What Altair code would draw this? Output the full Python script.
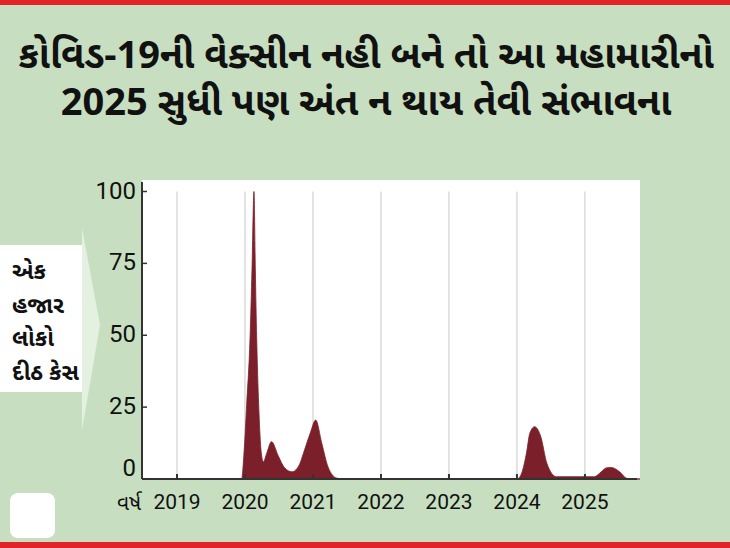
import altair as alt
import pandas as pd

# ---------------- data ----------------
title_lines = ["કોવિડ-19ની વેક્સીન નહી બને તો આ મહામારીનો",
               "2025 સુધી પણ અંત ન થાય તેવી સંભાવના"]
side_label = ["એક", "હજાર", "લોકો", "દીઠ કેસ"]
x_title = "વર્ષ"
year_ticks = [2019, 2020, 2021, 2022, 2023, 2024, 2025]
y_ticks = [0, 25, 50, 75, 100]

years = [2018.49, 2019.90, 2019.95, 2019.985, 2020.025, 2020.074, 2020.103,
         2020.132, 2020.152, 2020.172, 2020.201, 2020.24, 2020.27, 2020.32,
         2020.39, 2020.49, 2020.58, 2020.69, 2020.80, 2020.86, 2020.96,
         2021.04, 2021.13, 2021.22, 2021.35, 2021.45, 2024.00, 2024.05,
         2024.14, 2024.19, 2024.26, 2024.35, 2024.44, 2024.58, 2025.14,
         2025.24, 2025.32, 2025.39, 2025.51, 2025.62, 2025.81]
cases = [0, 0, 0, 9, 26, 49, 73,
         100, 73, 49, 26, 9, 6, 9,
         13, 8, 4, 2.5, 5, 9, 16,
         20.5, 12.4, 4.3, 0.3, 0, 0, 1,
         9, 16, 18.2, 14.8, 5.5, 0.8, 0.8,
         2.5, 3.9, 4, 2.5, 0.2, 0]

df = pd.DataFrame({"year": years, "cases": cases})
ticks_df = pd.DataFrame({"year": year_ticks,
                         "label": [str(y) for y in year_ticks],
                         "lo": [y_ticks[0]] * len(year_ticks),
                         "hi": [y_ticks[-1]] * len(year_ticks)})
yt_df = pd.DataFrame({"v": y_ticks, "label": [str(v) for v in y_ticks]})
one = pd.DataFrame({"k": [0]})

# ---------------- styling ----------------
BG = "#c7dfc0"
RED = "#e3232a"
AREA = "#7b1f2a"
INK = "#111111"
AXIS = "#333333"
NUM_FONT = "Roboto, Liberation Sans, sans-serif"
GU_FONT = "Noto Sans Gujarati, Noto Sans, sans-serif"

W, H = 498, 299
PL, PT = 142, 180

x_scale = alt.Scale(domain=[2018.485, 2025.81], nice=False, zero=False)
y_scale = alt.Scale(domain=[0, 104], nice=False)

# --- plot content ---
grid = alt.Chart(ticks_df).mark_rule(color="#c8c8c8", strokeWidth=1).encode(
    x=alt.X("year:Q", scale=x_scale, axis=None),
    y=alt.Y("lo:Q", scale=y_scale, axis=None), y2="hi:Q")

area = alt.Chart(df).mark_area(color=AREA, interpolate="monotone",
                               stroke=AREA, strokeWidth=0.8).encode(
    x=alt.X("year:Q", scale=x_scale, axis=None),
    y=alt.Y("cases:Q", scale=y_scale, axis=None))

# --- axis lines, ticks, labels (through the same scales) ---
x_domain = alt.Chart(one).mark_rule(color=AXIS, strokeWidth=2).encode(
    x=alt.value(0), x2=alt.value(W - 3), y=alt.value(H))
y_domain = alt.Chart(one).mark_rule(color=AXIS, strokeWidth=2).encode(
    x=alt.value(0), y=alt.value(2), y2=alt.value(H))

xticks = alt.Chart(ticks_df).mark_rule(color=AXIS, strokeWidth=2).encode(
    x=alt.X("year:Q", scale=x_scale, axis=None),
    y=alt.value(H), y2=alt.value(H - 5))

yticks = alt.Chart(yt_df).mark_rule(color=AXIS, strokeWidth=1.5).encode(
    y=alt.Y("v:Q", scale=y_scale, axis=None),
    x=alt.value(0), x2=alt.value(5))

xlabels = alt.Chart(ticks_df).mark_text(
    font=NUM_FONT, fontSize=21, color=INK, align="center", baseline="middle"
).encode(x=alt.X("year:Q", scale=x_scale, axis=None),
         y=alt.value(H + 24), text="label:N")

ylabels = alt.Chart(yt_df).transform_filter("datum.v > 0").mark_text(
    font=NUM_FONT, fontSize=24, color=INK, align="right", baseline="middle"
).encode(y=alt.Y("v:Q", scale=y_scale, axis=None),
         x=alt.value(-6), text="label:N")

# the bottom label sits above the baseline, as in the original
ylabel0 = alt.Chart(yt_df).transform_filter("datum.v == 0").mark_text(
    font=NUM_FONT, fontSize=24, color=INK, align="right", baseline="alphabetic",
    dy=-3
).encode(y=alt.Y("v:Q", scale=y_scale, axis=None),
         x=alt.value(-6), text="label:N")


# --- decorations ---
def deco_rect(x1, x2, y1, y2, color, radius=0):
    return alt.Chart(one).mark_rect(color=color, cornerRadius=radius).encode(
        x=alt.value(x1 - PL), x2=alt.value(x2 - PL),
        y=alt.value(y1 - PT), y2=alt.value(y2 - PT))


red_top = deco_rect(0, 730, 0, 5, RED)
red_bot = deco_rect(0, 730, 542, 548, RED)
icon = deco_rect(10, 55, 493, 538, "white", radius=8)
label_box = deco_rect(0, 82, 245, 392, "white")

arrow_tip = alt.Chart(one).mark_point(
    shape="M0,-1.01L0.18,-0.04L0,1.01Z", filled=True, opacity=1,
    color="#e4f0e0", size=40000, strokeWidth=0
).encode(x=alt.value(82 - PL), y=alt.value(329 - PT))

title1 = alt.Chart(one).mark_text(
    text=title_lines[0], font=GU_FONT, fontSize=38, fontWeight="bold",
    color=INK, align="center", baseline="middle"
).encode(x=alt.value(366 - PL), y=alt.value(57 - PT))

title2 = alt.Chart(one).mark_text(
    text=title_lines[1], font=GU_FONT, fontSize=38, fontWeight="bold",
    color=INK, align="center", baseline="middle"
).encode(x=alt.value(366 - PL), y=alt.value(104 - PT))

side = alt.Chart(one).mark_text(
    text=side_label, font=GU_FONT, fontSize=23, fontWeight="bold",
    color=INK, align="left", baseline="middle", lineHeight=33.5
).encode(x=alt.value(12 - PL), y=alt.value(272 - PT))

xtitle = alt.Chart(one).mark_text(
    text=x_title, font=GU_FONT, fontSize=21, color=INK,
    align="center", baseline="middle"
).encode(x=alt.value(129 - PL), y=alt.value(504 - PT))

chart = alt.layer(
    grid, area, x_domain, y_domain, xticks, yticks, xlabels, ylabels, ylabel0,
    red_top, red_bot, icon, arrow_tip, label_box,
    title1, title2, side, xtitle
).properties(
    width=W, height=H,
    autosize=alt.AutoSizeParams(type="none"),
    padding={"left": PL, "top": PT, "right": 730 - PL - W, "bottom": 548 - PT - H},
    background=BG,
).configure_view(fill="white", stroke=None)

chart.save("out.html", embed_options={"renderer": "svg", "actions": False})
